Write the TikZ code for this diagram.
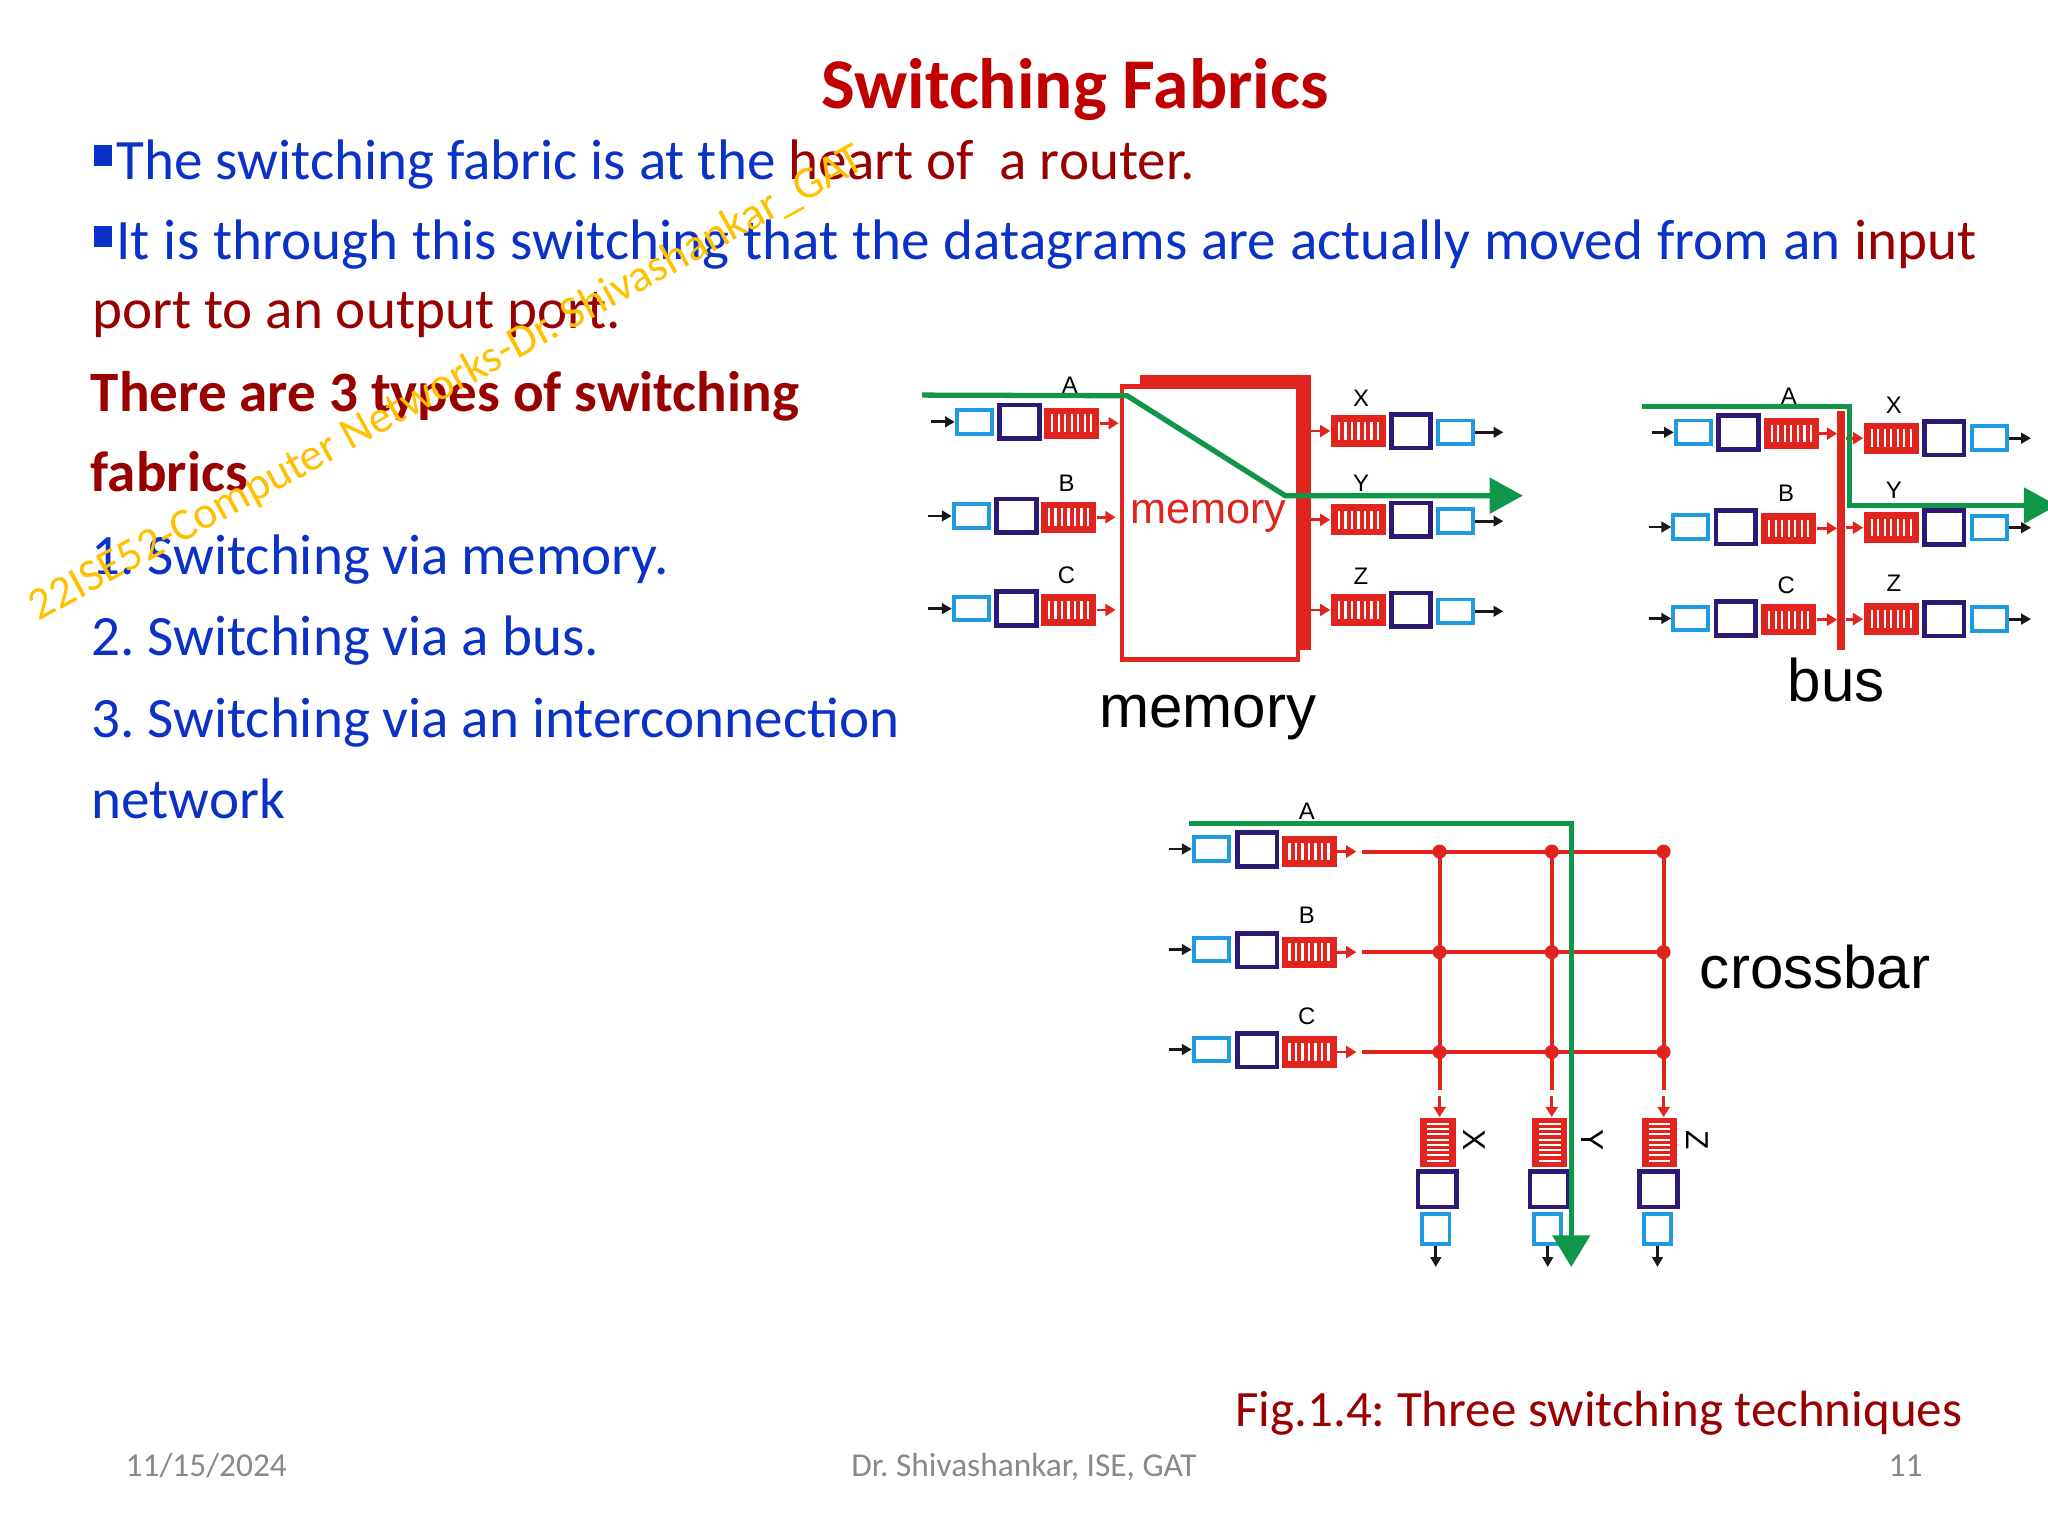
\documentclass[tikz,border=0pt]{standalone}
\usepackage{fontspec}
\setmainfont{Carlito}
\newfontfamily\arialf{Liberation Sans}
\usetikzlibrary{arrows.meta}
\frenchspacing
\definecolor{dred}{RGB}{225,37,30}
\definecolor{lblue}{RGB}{30,155,225}
\definecolor{dpurp}{RGB}{45,25,115}
\definecolor{fgreen}{RGB}{16,150,72}
\definecolor{tblue}{RGB}{10,50,200}
\definecolor{tdred}{RGB}{153,0,0}
\definecolor{ttitle}{RGB}{192,0,0}
\definecolor{wmark}{RGB}{255,192,0}
\definecolor{fgray}{RGB}{137,137,137}
\newcommand\bul{\raisebox{0.225em}{\rule{0.31em}{0.37em}}\hspace{0.08em}}
\begin{document}
\begin{tikzpicture}[x=0.0130612cm,y=-0.0130612cm,
  bluebox/.style={draw=lblue, line width=1.1pt, fill=white, inner sep=0pt, minimum width=10pt, minimum height=6.7pt},
  purpbox/.style={draw=dpurp, line width=1.35pt, fill=white, inner sep=0pt, minimum width=11.3pt, minimum height=9.6pt},
  obluebox/.style={draw=lblue, line width=1.1pt, fill=white, inner sep=0pt, minimum width=7.75pt, minimum height=8.56pt},
  opurpbox/.style={draw=dpurp, line width=1.35pt, fill=white, inner sep=0pt, minimum width=10.85pt, minimum height=10.05pt},
  queueh/.style={fill=dred, inner sep=0pt, minimum width=15.6pt, minimum height=8.9pt,
    path picture={\foreach \k in {-3,...,3}{\draw[white,line width=0.65pt] ([xshift=\k*1.85pt,yshift=-2.5pt]path picture bounding box.center) -- ++(0pt,5pt);}}},
  queuev/.style={fill=dred, inner sep=0pt, minimum width=10.1pt, minimum height=13.9pt,
    path picture={\foreach \k in {0,...,7}{\draw[white,line width=0.55pt] ([xshift=-3.1pt,yshift=\k*1.5pt-5.25pt]path picture bounding box.center) -- ++(6.2pt,0pt);}}},
  blk/.style={black!90, line width=0.8pt, -{Triangle[length=2.8pt,width=3pt]}},
  rarr/.style={dred, line width=0.8pt, -{Triangle[length=2.9pt,width=3.4pt]}},
  gpath/.style={fgreen, line width=1.5pt},
  xline/.style={dred, line width=1.1pt},
  lbl/.style={inner sep=0pt, font=\arialf\fontsize{6.8}{8}\selectfont},
  olbl/.style={inner sep=0pt, font=\arialf\fontsize{9}{10}\selectfont},
  biglbl/.style={inner sep=0pt, font=\arialf\fontsize{17.1}{20}\selectfont},
  dotn/.style={circle, fill=dred, inner sep=0pt, minimum size=4pt},
  body/.style={inner sep=0pt, anchor=base west, font=\fontsize{16.25}{19.5}\selectfont},
  foot/.style={inner sep=0pt, text=fgray, font=\fontsize{9.5}{11}\selectfont}]
\useasboundingbox (0,0) rectangle (1568,1176);
\clip (0,0) rectangle (1568,1176);
\fill[white] (0,0) rectangle (1568,1176);

% ---------- slide text ----------
\node[inner sep=0pt, anchor=base, text=ttitle, font=\fontsize{20.3}{24}\selectfont\bfseries] (title) at (823,83) {Switching Fabrics};
\node[body] (t1) at (71.6,137.3) {\textcolor{tblue}{\bul The switching fabric is at the }\textcolor{tdred}{heart of\ \ a router.}};
\node[body] (t2) at (71.6,199) {\spaceskip=1.08\fontdimen2\font\textcolor{tblue}{\bul It is through this switching that the datagrams are actually moved from an }\textcolor{tdred}{input}};
\node[body, text=tdred] (t3) at (70,251.4) {port to an output port.};
\node[body, text=tdred, font=\fontsize{16.25}{19.5}\selectfont\bfseries] (t4) at (69,315) {There are 3 types of switching};
\node[body, text=tdred, font=\fontsize{16.25}{19.5}\selectfont\bfseries] (t5) at (69,376.4) {fabrics};
\node[body, text=tblue] (t6) at (69.5,439.5) {1. Switching via memory.};
\node[body, text=tblue] (t7) at (69.5,502) {2. Switching via a bus.};
\node[body, text=tblue] (t8) at (69.5,564.5) {3. Switching via an interconnection};
\node[body, text=tblue] (t9) at (69.5,627) {network};

% ---------- memory fabric ----------
\fill[dred] (873,287) rectangle (1004,296);
\fill[dred] (995,287) rectangle (1004,498);
\draw[dred, line width=1.2pt] (859,296) rectangle (994,505);
\node[inner sep=0pt, anchor=base, text=dred, font=\arialf\fontsize{12.3}{14}\selectfont] (memtxt) at (925,400.6) {memory};
\foreach \rr/\bx/\yy/\ly in {A/746/323/294.8, B/743.6/395/370, C/743.6/466/440.2}{
  \node[bluebox] (mi\rr-b) at (\bx,\yy) {};
  \node[purpbox] (mi\rr-p) at (\bx+34.5,\yy) {};
  \node[queueh] (mi\rr-q) at (\bx+74.5,\yy+1) {};
  \coordinate (mi\rr-s) at (\bx-33,\yy);
  \coordinate (mi\rr-e) at (\bx+110.5,\yy+1);
  \draw[blk] (mi\rr-s) -- (mi\rr-b);
  \draw[rarr] (mi\rr-q) -- (mi\rr-e);
  \node[lbl] (mi\rr-l) at (\bx+73,\ly) {\rr};
}
\foreach \rr/\yy/\ly in {X/330/305, Y/398/370, Z/467/441.5}{
  \node[queueh] (mo\rr-q) at (1040,\yy) {};
  \node[purpbox] (mo\rr-p) at (1080.3,\yy) {};
  \node[bluebox] (mo\rr-b) at (1114.3,\yy+1) {};
  \coordinate (mo\rr-s) at (1004,\yy);
  \coordinate (mo\rr-e) at (1151,\yy+1);
  \draw[rarr] (mo\rr-s) -- (mo\rr-q);
  \draw[blk] (mo\rr-b) -- (mo\rr-e);
  \node[lbl] (mo\rr-l) at (1042,\ly) {\rr};
}
\coordinate (gm0) at (706,302.5);
\coordinate (gm1) at (863,303);
\coordinate (gm2) at (984,379.5);
\coordinate (gm3) at (1166,379.5);
\draw[gpath, -{Triangle[length=9.5pt,width=10pt]}] (gm0) -- (gm1) -- (gm2) -- (gm3);
\node[biglbl, anchor=base] (memlbl) at (924.6,556.9) {memory};

% ---------- bus fabric ----------
\coordinate (busT) at (1409.6,315);
\coordinate (busB) at (1409.6,498);
\draw[dred, line width=2.4pt] (busT) -- (busB);
\foreach \rr/\bx/\yy/\ly in {A/1296.5/331/303.7, B/1294.5/403.5/377.7, C/1294.5/473.5/448}{
  \node[bluebox] (bi\rr-b) at (\bx,\yy) {};
  \node[purpbox] (bi\rr-p) at (\bx+34.5,\yy) {};
  \node[queueh] (bi\rr-q) at (\bx+75,\yy+1) {};
  \coordinate (bi\rr-s) at (\bx-32,\yy);
  \coordinate (bi\rr-e) at (1406.5,\yy+1);
  \draw[blk] (bi\rr-s) -- (bi\rr-b);
  \draw[rarr] (bi\rr-q) -- (bi\rr-e);
  \node[lbl] (bi\rr-l) at (\bx+73,\ly) {\rr};
}
\foreach \rr/\yy/\ly in {X/335.5/310, Y/404/375, Z/474/446.6}{
  \node[queueh] (bo\rr-q) at (1448,\yy) {};
  \node[purpbox] (bo\rr-p) at (1488.5,\yy) {};
  \node[bluebox] (bo\rr-b) at (1523,\yy) {};
  \coordinate (bo\rr-s) at (1413,\yy);
  \coordinate (bo\rr-e) at (1555,\yy);
  \draw[rarr] (bo\rr-s) -- (bo\rr-q);
  \draw[blk] (bo\rr-b) -- (bo\rr-e);
  \node[lbl] (bo\rr-l) at (1450,\ly) {\rr};
}
\coordinate (gb0) at (1257,311.4);
\coordinate (gb1) at (1415.8,311.4);
\coordinate (gb2) at (1415.8,387);
\coordinate (gb3) at (1575,387);
\draw[gpath, -{Triangle[length=9.5pt,width=10pt]}] (gb0) -- (gb1) -- (gb2) -- (gb3);
\node[biglbl, anchor=base] (buslbl) at (1406,537.2) {bus};

% ---------- crossbar fabric ----------
\foreach \rr/\yy/\ly in {A/652/621.5, B/729/700.6, C/805.5/778.4}{
  \node[bluebox] (ci\rr-b) at (927.4,\yy-2) {};
  \node[purpbox] (ci\rr-p) at (962.4,\yy-1.5) {};
  \node[queueh] (ci\rr-q) at (1002.3,\yy) {};
  \coordinate (ci\rr-s) at (895,\yy-2);
  \coordinate (ci\rr-e) at (1038.5,\yy);
  \draw[blk] (ci\rr-s) -- (ci\rr-b);
  \draw[rarr] (ci\rr-q) -- (ci\rr-e);
  \node[lbl] (ci\rr-l) at (1000.5,\ly) {\rr};
  \coordinate (rs\rr) at (1042.6,\yy);
  \node[dotn] (d\rr1) at (1102.2,\yy) {};
  \node[dotn] (d\rr2) at (1188.1,\yy) {};
  \node[dotn] (d\rr3) at (1273.7,\yy) {};
  \draw[xline] (rs\rr) -- (d\rr3.center);
}
\foreach \cc/\colx/\cx/\lx/\lab in {1/1102.2/1100.8/1128.8/X, 2/1188.1/1186.5/1218.8/Y, 3/1273.7/1270.5/1299.6/Z}{
  \coordinate (ce\cc) at (\colx,834.5);
  \draw[xline] (dA\cc.center) -- (ce\cc);
  \coordinate (ca\cc) at (\colx,839);
  \node[queuev] (oq\cc) at (\cx,874.5) {};
  \node[opurpbox] (op\cc) at (\cx-0.5,910.5) {};
  \node[obluebox] (ob\cc) at (\cx-1.5,941) {};
  \coordinate (oe\cc) at (\cx-1.5,970);
  \draw[rarr] (ca\cc) -- (ca\cc |- oq\cc.north);
  \draw[blk] (ob\cc) -- (oe\cc);
  \node[olbl, rotate=-90] (ol\cc) at (\lx,873) {\lab};
}
\coordinate (gc0) at (910,630.4);
\coordinate (gc1) at (1203,630.4);
\coordinate (gc2) at (1203,970);
\draw[gpath, -{Triangle[length=9pt,width=10.5pt]}] (gc0) -- (gc1) -- (gc2);
\node[biglbl, anchor=base west] (xlbl) at (1301,757) {crossbar};

% ---------- caption and footer ----------
\node[inner sep=0pt, anchor=base west, text=tdred, font=\fontsize{14.5}{17}\selectfont] (cap) at (945.4,1092) {Fig.1.4: Three switching techniques};
\node[foot, anchor=base west] (date) at (95.7,1130.6) {11/15/2024};
\node[foot, anchor=base] (auth) at (784,1130.6) {Dr. Shivashankar, ISE, GAT};
\node[foot, anchor=base east] (pnum) at (1472.4,1130.6) {11};

% ---------- watermark ----------
\node[inner sep=0pt, anchor=base west, rotate=28.7, text=wmark, font=\fontsize{12.9}{15}\selectfont] (wm) at (29.3,476) {22ISE52-Computer Networks-Dr. Shivashankar\_GAT};
\end{tikzpicture}
\end{document}
